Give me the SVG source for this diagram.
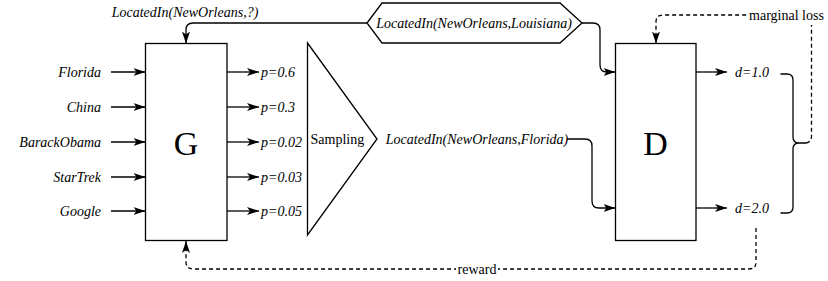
<svg xmlns="http://www.w3.org/2000/svg" width="828" height="281" viewBox="0 0 828 281">
<style>
  text { font-family: "Liberation Serif", "Times New Roman", serif; fill: #000; }
  .it { font-style: italic; font-size: 14px; }
  .rm { font-size: 14px; }
  .big { font-size: 34px; }
  .box { fill: #fff; stroke: #000; stroke-width: 1.3; }
  .edge { fill: none; stroke: #000; stroke-width: 1.3; }
  .dash { fill: none; stroke: #000; stroke-width: 1.3; stroke-dasharray: 4 3; }
</style>
<defs>
  <marker id="arr" viewBox="0 0 12 8" refX="12" refY="4" markerWidth="12" markerHeight="8" markerUnits="userSpaceOnUse" orient="auto">
    <path d="M0,0 L12,4 L0,8 L3,4 Z" fill="#000"/>
  </marker>
</defs>
<rect width="828" height="281" fill="#fff"/>

<g id="connectors">
  <!-- inputs to G -->
  <path class="edge" d="M111,72 L145.5,72" marker-end="url(#arr)"/>
  <path class="edge" d="M111,107 L145.5,107" marker-end="url(#arr)"/>
  <path class="edge" d="M111,142 L145.5,142" marker-end="url(#arr)"/>
  <path class="edge" d="M111,177 L145.5,177" marker-end="url(#arr)"/>
  <path class="edge" d="M111,211 L145.5,211" marker-end="url(#arr)"/>
  <!-- outputs of G -->
  <path class="edge" d="M227,72 L259,72" marker-end="url(#arr)"/>
  <path class="edge" d="M227,107 L259,107" marker-end="url(#arr)"/>
  <path class="edge" d="M227,142 L259,142" marker-end="url(#arr)"/>
  <path class="edge" d="M227,177 L259,177" marker-end="url(#arr)"/>
  <path class="edge" d="M227,211 L259,211" marker-end="url(#arr)"/>
  <!-- hexagon to G top -->
  <path class="edge" d="M367,23 L193,23 Q186,23 186,30 L186,43.5" marker-end="url(#arr)"/>
  <!-- hexagon to D -->
  <path class="edge" d="M582,23 L593,23 Q600,23 600,30 L600,65 Q600,72 607,72 L615.5,72" marker-end="url(#arr)"/>
  <!-- Florida sample to D -->
  <path class="edge" d="M567,139 L585,139 Q592,139 592,146 L592,201 Q592,208 599,208 L615.5,208" marker-end="url(#arr)"/>
  <!-- outputs of D -->
  <path class="edge" d="M696,72 L727,72" marker-end="url(#arr)"/>
  <path class="edge" d="M696,208 L727,208" marker-end="url(#arr)"/>
  <!-- brace -->
  <path class="edge" d="M780.5,74 L787,74 Q793,74 793,80 L793,137 Q793,143 799,143 L806,143 M799,143 Q793,143 793,149 L793,207 Q793,213 787,213 L780.5,213"/>
  <!-- marginal loss -->
  <path class="dash" d="M806,143 Q811.5,142 811.5,136 L811.5,15 L663,15 Q656,15 656,22 L656,43.5" marker-end="url(#arr)"/>
  <rect x="747" y="7" width="79" height="18" fill="#fff"/>
  <text class="rm" x="786.5" y="19.5" text-anchor="middle">marginal loss</text>
  <!-- reward -->
  <path class="dash" d="M756,228 L756,262 Q756,269 749,269 L193,269 Q186,269 186,262 L186,241" marker-end="url(#arr)"/>
  <rect x="456" y="261" width="42" height="16" fill="#fff"/>
  <text class="rm" x="477" y="273.5" text-anchor="middle">reward</text>
  <text class="it" x="185" y="17" text-anchor="middle">LocatedIn(NewOrleans,?)</text>
</g>

<g id="inputs">
  <text class="it" x="101" y="77" text-anchor="end">Florida</text>
  <text class="it" x="101" y="112" text-anchor="end">China</text>
  <text class="it" x="101" y="147" text-anchor="end">BarackObama</text>
  <text class="it" x="101" y="182" text-anchor="end">StarTrek</text>
  <text class="it" x="101" y="216" text-anchor="end">Google</text>
</g>

<g id="G">
  <rect class="box" x="145.5" y="43.5" width="81.5" height="197"/>
  <text class="big" x="186" y="155" text-anchor="middle">G</text>
</g>

<g id="probs">
  <text class="it" x="261" y="77">p=0.6</text>
  <text class="it" x="261" y="112">p=0.3</text>
  <text class="it" x="261" y="147">p=0.02</text>
  <text class="it" x="261" y="182">p=0.03</text>
  <text class="it" x="261" y="216">p=0.05</text>
</g>

<g id="sampling">
  <path class="box" d="M307.5,43 L377,139 L307.5,235 Z"/>
  <text class="rm" x="310.5" y="144">Sampling</text>
</g>

<g id="sample">
  <text class="it" x="477" y="144" text-anchor="middle">LocatedIn(NewOrleans,Florida)</text>
</g>

<g id="truth">
  <path class="box" d="M367,23 L382,3 L560,3 L582,23 L560,43 L382,43 Z"/>
  <text class="it" x="474" y="28" text-anchor="middle">LocatedIn(NewOrleans,Louisiana)</text>
</g>

<g id="D">
  <rect class="box" x="615.5" y="43.5" width="80.5" height="197"/>
  <text class="big" x="655.5" y="155" text-anchor="middle">D</text>
</g>

<g id="scores">
  <text class="it" x="735" y="77">d=1.0</text>
  <text class="it" x="735" y="213">d=2.0</text>
</g>
</svg>
